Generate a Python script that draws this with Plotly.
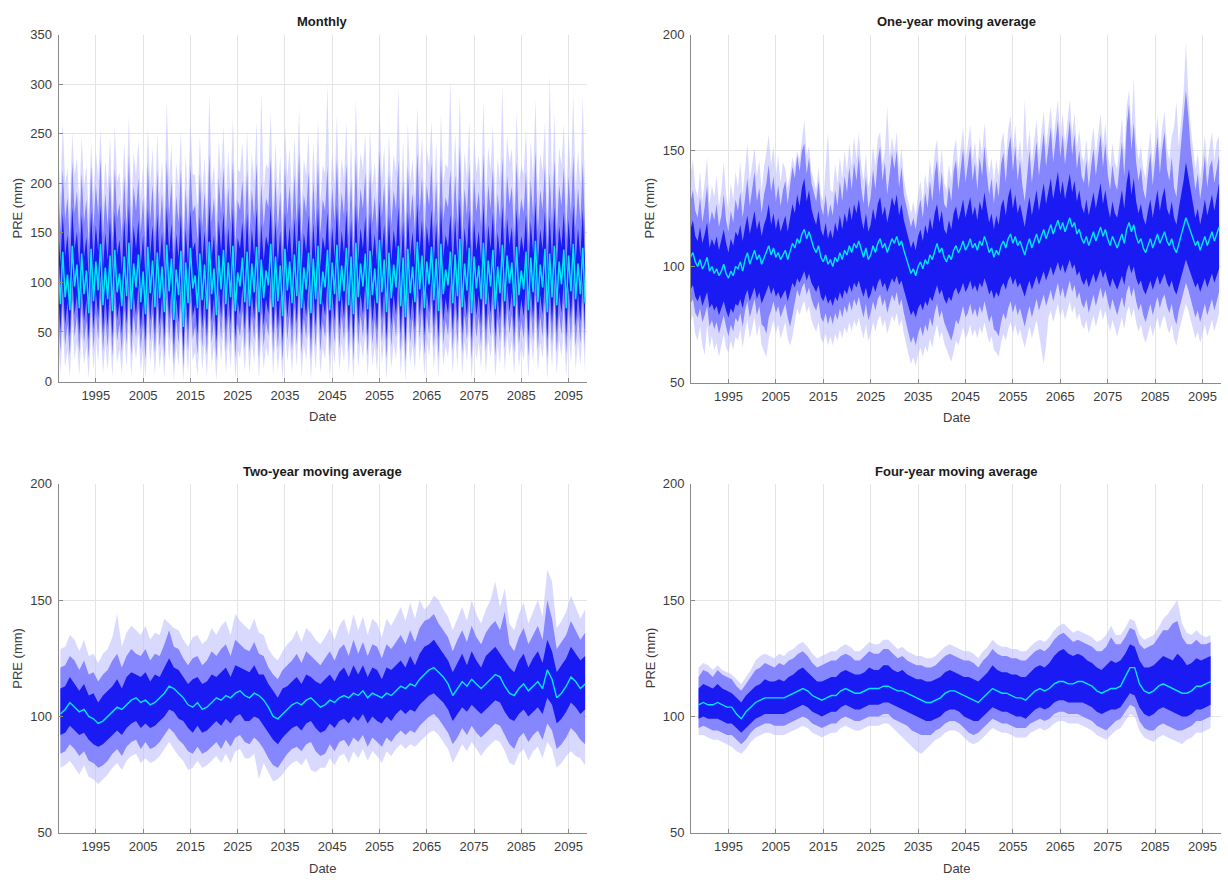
import numpy as np
import plotly.graph_objects as go

# ---------------------------------------------------------------------------
# Ensemble precipitation (PRE, mm): envelope (min/max), 10-90 % and 25-75 %
# ranges and ensemble median, for monthly values and 1/2/4-year moving means.
# ---------------------------------------------------------------------------

# Monthly values, sampled every half year from 1987.0
mon_start, mon_step = 1987.0, 0.5
mon_med = [124, 78, 131, 85, 108, 72, 137, 96, 118, 74, 129, 88, 112, 69, 134, 81, 121, 92, 139, 77,
           115, 83, 127, 71, 133, 90, 109, 76, 126, 86, 140, 73, 119, 95, 128, 80, 111, 68, 136, 89,
           122, 75, 130, 84, 116, 70, 138, 91, 124, 62, 113, 87, 132, 55, 120, 79, 135, 94, 107, 74,
           129, 82, 118, 73, 141, 88, 114, 67, 127, 93, 133, 78, 120, 85, 137, 71, 110, 96, 125, 80,
           131, 76, 119, 90, 136, 70, 123, 84, 112, 97, 139, 75, 126, 81, 117, 66, 134, 92, 121, 79,
           128, 86, 142, 74, 115, 93, 130, 69, 124, 83, 137, 78, 111, 95, 133, 72, 120, 88, 138, 81,
           117, 91, 135, 77, 126, 68, 140, 85, 119, 96, 129, 73, 132, 87, 114, 79, 143, 90, 123, 70,
           130, 84, 118, 95, 137, 76, 125, 65, 134, 89, 116, 80, 141, 93, 127, 74, 121, 98, 136, 82,
           124, 71, 139, 88, 113, 97, 131, 79, 128, 86, 144, 75, 119, 92, 135, 69, 126, 94, 117, 83,
           140, 78, 122, 96, 133, 73, 116, 89, 138, 81, 127, 99, 120, 76, 136, 87, 112, 93, 131, 72,
           125, 90, 142, 80, 118, 95, 134, 70, 129, 85, 137, 77, 121, 98, 133, 74, 127, 91, 139, 83,
           119, 88, 135, 79]
mon_p75 = [160, 118, 170, 126, 148, 109, 176, 133, 151, 115, 168, 125, 146, 105, 172, 120, 158, 131, 178, 113,
           150, 122, 166, 108, 171, 128, 143, 112, 165, 121, 179, 110, 157, 134, 163, 117, 148, 103, 175, 127,
           158, 111, 169, 119, 151, 106, 177, 130, 160, 98, 149, 124, 170, 92, 155, 116, 173, 133, 141, 110,
           167, 120, 152, 109, 180, 125, 148, 104, 163, 131, 171, 114, 156, 123, 176, 107, 145, 134, 161, 117,
           170, 113, 154, 127, 175, 106, 160, 121, 147, 136, 178, 111, 162, 118, 152, 101, 172, 130, 157, 116,
           165, 124, 181, 110, 150, 131, 168, 105, 160, 120, 176, 115, 146, 133, 171, 108, 156, 125, 177, 118,
           152, 129, 173, 113, 163, 104, 179, 122, 155, 134, 167, 109, 170, 124, 149, 116, 182, 128, 159, 106,
           168, 121, 153, 133, 176, 112, 162, 100, 172, 126, 151, 117, 180, 131, 164, 110, 157, 136, 174, 119,
           161, 107, 178, 125, 148, 135, 169, 116, 165, 123, 184, 111, 155, 130, 173, 104, 163, 132, 152, 120,
           179, 114, 158, 134, 171, 110, 151, 126, 177, 118, 165, 137, 156, 112, 175, 124, 147, 131, 169, 108,
           162, 128, 181, 117, 154, 133, 172, 106, 167, 122, 176, 114, 157, 136, 171, 111, 164, 129, 178, 120,
           155, 125, 174, 116]
mon_p25 = [95, 50, 101, 57, 80, 45, 106, 67, 88, 47, 99, 60, 83, 42, 104, 53, 91, 64, 108, 49,
           86, 55, 97, 44, 103, 62, 80, 48, 96, 58, 109, 46, 89, 66, 98, 52, 82, 41, 105, 61,
           92, 47, 100, 56, 87, 43, 107, 63, 94, 36, 84, 59, 102, 30, 90, 51, 104, 65, 78, 46,
           99, 54, 88, 45, 110, 60, 85, 40, 97, 64, 103, 50, 90, 57, 106, 43, 81, 67, 95, 52,
           101, 48, 89, 62, 105, 42, 93, 56, 83, 68, 108, 47, 96, 53, 87, 39, 104, 64, 91, 51,
           98, 58, 111, 46, 86, 65, 100, 41, 94, 55, 106, 50, 82, 66, 103, 44, 90, 60, 107, 53,
           88, 63, 104, 49, 96, 40, 109, 57, 89, 67, 99, 45, 101, 59, 85, 51, 112, 62, 93, 42,
           100, 56, 88, 66, 106, 48, 95, 38, 103, 61, 86, 52, 110, 65, 97, 46, 91, 69, 105, 54,
           94, 43, 108, 60, 84, 68, 101, 51, 98, 58, 113, 47, 89, 64, 104, 41, 96, 66, 87, 55,
           109, 50, 92, 67, 102, 45, 86, 61, 107, 53, 97, 70, 90, 48, 105, 59, 83, 65, 100, 44,
           95, 62, 111, 52, 88, 67, 103, 42, 99, 57, 106, 49, 91, 69, 102, 46, 97, 63, 108, 55,
           89, 60, 104, 51]
mon_p90 = [201, 152, 214, 163, 186, 141, 222, 170, 192, 148, 210, 161, 184, 137, 218, 155, 199, 168, 226, 146,
           190, 157, 209, 140, 216, 165, 180, 145, 207, 156, 228, 142, 197, 172, 205, 150, 186, 134, 221, 163,
           199, 144, 212, 153, 190, 138, 224, 167, 203, 128, 188, 160, 215, 121, 195, 149, 219, 171, 178, 142,
           210, 155, 191, 141, 230, 161, 186, 135, 206, 169, 216, 147, 197, 158, 223, 138, 183, 173, 203, 151,
           214, 146, 194, 164, 221, 137, 201, 156, 185, 176, 226, 143, 205, 152, 192, 131, 218, 168, 198, 150,
           209, 160, 232, 142, 189, 170, 212, 136, 202, 155, 223, 148, 184, 172, 217, 140, 196, 162, 225, 152,
           191, 167, 220, 146, 205, 134, 228, 158, 195, 174, 211, 141, 215, 160, 187, 150, 233, 166, 200, 137,
           212, 157, 193, 172, 224, 145, 204, 130, 218, 163, 190, 151, 231, 170, 207, 142, 198, 177, 221, 154,
           203, 139, 227, 162, 186, 175, 214, 150, 209, 159, 238, 144, 195, 168, 219, 135, 206, 171, 192, 156,
           229, 148, 199, 174, 216, 142, 190, 163, 226, 152, 208, 179, 197, 145, 222, 161, 185, 170, 213, 140,
           204, 166, 233, 151, 194, 173, 218, 137, 211, 158, 224, 148, 198, 177, 216, 144, 207, 168, 228, 155,
           196, 162, 221, 150]
mon_p10 = [72, 30, 78, 36, 58, 26, 83, 45, 66, 28, 76, 39, 61, 23, 81, 33, 69, 42, 85, 29,
           64, 34, 74, 25, 80, 41, 58, 29, 73, 37, 86, 27, 67, 44, 75, 32, 60, 22, 82, 40,
           70, 28, 77, 35, 65, 24, 84, 42, 71, 18, 62, 38, 79, 13, 68, 31, 81, 43, 56, 27,
           76, 34, 66, 26, 87, 39, 63, 21, 74, 42, 80, 30, 68, 36, 83, 24, 59, 45, 72, 32,
           78, 29, 67, 41, 82, 23, 70, 35, 61, 46, 85, 28, 73, 33, 65, 20, 81, 42, 68, 31,
           75, 37, 88, 27, 64, 43, 77, 22, 71, 34, 83, 30, 60, 44, 80, 25, 67, 39, 84, 33,
           66, 41, 81, 30, 73, 21, 86, 36, 67, 45, 76, 26, 78, 38, 63, 31, 89, 40, 70, 23,
           77, 35, 66, 44, 83, 29, 72, 19, 80, 39, 64, 32, 87, 43, 74, 27, 68, 47, 82, 34,
           71, 24, 85, 38, 62, 46, 78, 31, 75, 36, 90, 28, 67, 42, 81, 22, 73, 44, 65, 35,
           86, 30, 69, 45, 79, 26, 64, 39, 84, 33, 74, 48, 68, 29, 82, 37, 61, 43, 77, 25,
           72, 40, 88, 32, 66, 45, 80, 23, 76, 36, 83, 29, 69, 47, 79, 27, 74, 41, 85, 35,
           67, 38, 81, 31]
mon_max = [238, 186, 262, 199, 215, 172, 251, 208, 226, 180, 247, 196, 219, 168, 241, 189, 233, 204, 255, 177,
           222, 193, 246, 170, 259, 201, 211, 178, 240, 190, 268, 175, 231, 207, 244, 184, 218, 165, 257, 198,
           236, 176, 250, 188, 223, 169, 283, 202, 239, 160, 221, 196, 254, 152, 229, 181, 262, 209, 208, 174,
           248, 190, 226, 173, 290, 197, 219, 166, 243, 205, 258, 180, 232, 193, 266, 170, 214, 211, 241, 185,
           253, 179, 230, 200, 262, 168, 293, 191, 220, 214, 271, 176, 242, 186, 228, 160, 259, 206, 235, 183,
           247, 195, 276, 173, 224, 208, 252, 167, 240, 190, 265, 181, 218, 210, 300, 172, 233, 198, 268, 186,
           226, 204, 262, 179, 244, 164, 286, 193, 231, 213, 251, 172, 255, 196, 221, 183, 279, 202, 238, 168,
           251, 192, 229, 211, 296, 177, 243, 159, 260, 200, 225, 185, 278, 208, 247, 174, 235, 217, 264, 188,
           241, 170, 270, 199, 220, 215, 305, 183, 250, 195, 289, 176, 232, 205, 263, 165, 246, 210, 228, 191,
           284, 181, 237, 214, 259, 175, 226, 200, 298, 186, 248, 221, 235, 177, 272, 198, 219, 208, 256, 171,
           243, 204, 285, 184, 231, 212, 262, 168, 310, 194, 270, 180, 236, 218, 260, 176, 249, 206, 290, 190,
           234, 198, 288, 183]
mon_min = [44, 8, 52, 14, 32, 5, 58, 22, 40, 6, 49, 17, 35, 3, 55, 11, 43, 20, 60, 7,
           38, 12, 47, 4, 53, 19, 33, 7, 46, 15, 61, 5, 41, 22, 49, 10, 34, 2, 56, 18,
           44, 6, 51, 13, 39, 3, 59, 20, 45, 1, 36, 16, 53, 0, 42, 9, 55, 21, 30, 5,
           50, 12, 40, 4, 62, 17, 37, 1, 48, 20, 54, 8, 42, 14, 57, 3, 33, 23, 46, 10,
           52, 7, 41, 19, 56, 2, 44, 13, 35, 24, 60, 6, 47, 11, 39, 1, 55, 20, 42, 9,
           49, 15, 63, 5, 38, 21, 51, 1, 45, 12, 57, 8, 34, 22, 54, 3, 41, 17, 58, 11,
           40, 19, 55, 8, 47, 1, 61, 14, 41, 23, 50, 4, 52, 16, 37, 9, 64, 18, 44, 2,
           51, 13, 40, 22, 57, 7, 46, 0, 54, 17, 38, 10, 62, 21, 48, 5, 42, 25, 56, 12,
           45, 3, 59, 16, 36, 24, 52, 9, 49, 14, 65, 6, 41, 20, 55, 1, 47, 22, 39, 13,
           60, 8, 43, 23, 53, 4, 38, 17, 58, 11, 48, 26, 42, 7, 56, 15, 35, 21, 51, 3,
           46, 18, 63, 10, 40, 23, 54, 1, 50, 14, 57, 7, 43, 25, 53, 5, 48, 19, 59, 13,
           41, 16, 55, 9]

# One-year moving average, half-yearly from 1987.0
ma1_start, ma1_step = 1987.0, 0.5
ma1_med = [104, 106, 102, 100, 103, 99, 101, 104, 98, 100, 97, 99, 96, 98, 101, 97, 95, 98, 96, 100,
           99, 102, 98, 103, 106, 101, 104, 107, 103, 105, 101, 104, 106, 109, 105, 108, 104, 106, 103, 105,
           107, 103, 106, 110, 108, 112, 110, 114, 116, 112, 115, 111, 108, 106, 109, 104, 102, 105, 101, 103,
           100, 104, 102, 106, 103, 107, 105, 109, 106, 110, 108, 111, 107, 104, 108, 103, 105, 109, 106, 110,
           112, 108, 110, 106, 109, 112, 110, 113, 109, 111, 107, 104, 100, 97, 99, 96, 100, 102, 99, 103,
           101, 105, 103, 107, 110, 106, 108, 104, 102, 105, 103, 107, 109, 106, 108, 111, 107, 109, 112, 108,
           110, 107, 111, 109, 113, 110, 106, 108, 104, 107, 105, 109, 111, 108, 112, 114, 110, 113, 109, 111,
           108, 105, 109, 112, 108, 111, 114, 110, 113, 116, 112, 115, 118, 114, 117, 120, 116, 119, 115, 118,
           121, 117, 119, 114, 116, 112, 110, 113, 109, 112, 115, 111, 114, 117, 113, 116, 112, 109, 113, 110,
           108, 111, 114, 110, 116, 119, 115, 118, 113, 110, 112, 108, 106, 109, 112, 108, 111, 114, 110, 113,
           115, 111, 109, 112, 108, 106, 110, 113, 117, 121, 118, 115, 112, 109, 111, 107, 110, 113, 109, 112,
           115, 111, 114, 117]
ma1_p75 = [116, 120, 113, 111, 117, 110, 114, 119, 108, 112, 109, 113, 107, 111, 116, 110, 106, 112, 109, 115,
           113, 118, 111, 117, 122, 114, 119, 124, 116, 120, 113, 118, 121, 127, 118, 123, 116, 121, 115, 119,
           122, 115, 121, 127, 123, 131, 126, 134, 138, 128, 133, 125, 121, 118, 124, 116, 113, 119, 112, 116,
           112, 119, 115, 122, 116, 123, 119, 126, 120, 127, 123, 129, 121, 116, 123, 115, 118, 125, 120, 127,
           130, 122, 126, 119, 124, 130, 126, 131, 122, 127, 120, 116, 112, 108, 111, 107, 113, 116, 111, 118,
           114, 121, 116, 123, 127, 119, 124, 116, 114, 120, 116, 123, 126, 120, 124, 129, 121, 125, 130, 122,
           126, 120, 128, 124, 132, 125, 119, 123, 116, 122, 118, 126, 129, 122, 130, 134, 125, 131, 123, 127,
           122, 117, 124, 130, 122, 128, 133, 124, 130, 136, 127, 133, 138, 129, 135, 141, 131, 137, 129, 135,
           140, 132, 137, 128, 133, 126, 123, 129, 122, 127, 132, 125, 131, 136, 127, 133, 126, 121, 128, 123,
           121, 127, 133, 125, 136, 142, 131, 138, 128, 123, 127, 121, 118, 124, 129, 121, 127, 133, 124, 130,
           134, 125, 122, 128, 121, 118, 125, 131, 137, 145, 139, 132, 126, 121, 125, 118, 123, 129, 122, 127,
           131, 124, 130, 136]
ma1_p25 = [90, 92, 87, 85, 88, 83, 86, 89, 82, 84, 81, 83, 79, 82, 85, 81, 78, 82, 80, 84,
           83, 86, 82, 87, 90, 85, 88, 91, 86, 89, 84, 87, 90, 92, 88, 91, 87, 89, 86, 88,
           90, 85, 89, 93, 91, 95, 93, 96, 98, 94, 97, 93, 91, 89, 92, 87, 85, 88, 84, 86,
           83, 87, 85, 89, 86, 90, 88, 92, 89, 93, 91, 94, 90, 87, 91, 86, 88, 92, 89, 93,
           95, 91, 93, 89, 92, 95, 93, 96, 92, 94, 90, 86, 82, 79, 81, 78, 82, 84, 81, 85,
           83, 87, 85, 89, 92, 88, 90, 86, 84, 87, 85, 89, 91, 88, 90, 93, 89, 91, 94, 90,
           92, 89, 93, 91, 95, 92, 88, 90, 86, 89, 87, 91, 93, 90, 94, 96, 92, 95, 91, 93,
           90, 87, 91, 94, 90, 93, 96, 92, 95, 98, 94, 97, 100, 96, 99, 102, 98, 101, 97, 100,
           103, 99, 101, 96, 98, 94, 92, 95, 91, 94, 97, 93, 96, 99, 95, 98, 94, 91, 95, 92,
           90, 93, 96, 92, 98, 101, 97, 100, 95, 92, 94, 90, 88, 91, 94, 90, 93, 96, 92, 95,
           97, 93, 91, 94, 90, 88, 92, 95, 99, 103, 100, 97, 94, 91, 93, 89, 92, 95, 91, 94,
           97, 93, 96, 99]
ma1_p90 = [128, 133, 124, 121, 130, 119, 126, 135, 118, 124, 120, 127, 117, 122, 131, 120, 115, 124, 119, 129,
           124, 132, 121, 130, 138, 126, 133, 141, 128, 134, 123, 131, 136, 144, 132, 139, 128, 135, 126, 133,
           137, 127, 135, 143, 138, 148, 141, 150, 153, 140, 147, 136, 132, 128, 137, 126, 122, 131, 121, 127,
           122, 133, 126, 137, 128, 139, 132, 143, 133, 145, 137, 148, 134, 127, 139, 125, 130, 142, 133, 146,
           152, 137, 145, 131, 140, 149, 142, 150, 134, 143, 131, 126, 121, 117, 121, 116, 124, 129, 121, 132,
           125, 137, 128, 140, 146, 131, 141, 127, 125, 135, 128, 141, 146, 133, 142, 151, 136, 143, 152, 137,
           145, 133, 147, 139, 152, 140, 131, 138, 127, 137, 130, 144, 149, 136, 150, 156, 141, 152, 137, 146,
           135, 128, 140, 150, 136, 146, 154, 139, 149, 158, 143, 153, 160, 145, 155, 163, 147, 157, 144, 154,
           163, 148, 157, 142, 150, 139, 136, 146, 134, 143, 151, 139, 148, 157, 143, 153, 140, 133, 144, 136,
           133, 143, 154, 139, 160, 170, 150, 162, 145, 137, 143, 133, 129, 140, 149, 135, 145, 156, 140, 151,
           158, 142, 137, 147, 134, 130, 142, 153, 164, 176, 165, 151, 142, 133, 140, 129, 137, 148, 134, 143,
           146, 136, 142, 148]
ma1_p10 = [84, 86, 80, 78, 82, 76, 79, 83, 74, 77, 73, 76, 71, 75, 79, 74, 70, 75, 72, 78,
           76, 80, 74, 81, 85, 78, 82, 86, 79, 83, 75, 74, 71, 78, 81, 85, 80, 83, 78, 81,
           84, 78, 74, 79, 85, 90, 87, 91, 93, 88, 91, 86, 83, 81, 85, 78, 76, 80, 75, 79,
           75, 80, 77, 82, 78, 83, 80, 85, 81, 86, 83, 87, 82, 78, 84, 77, 80, 85, 81, 86,
           88, 83, 86, 80, 84, 88, 85, 89, 83, 86, 80, 75, 71, 67, 70, 66, 71, 74, 70, 75,
           72, 78, 74, 80, 84, 78, 81, 76, 73, 71, 68, 72, 77, 75, 79, 83, 78, 80, 84, 79,
           82, 78, 83, 80, 85, 81, 76, 79, 73, 72, 70, 76, 80, 77, 82, 85, 80, 84, 79, 82,
           78, 74, 79, 83, 78, 82, 86, 81, 84, 88, 83, 87, 90, 85, 89, 93, 87, 91, 86, 90,
           94, 89, 92, 86, 89, 84, 82, 86, 80, 84, 88, 83, 87, 91, 86, 90, 85, 81, 86, 82,
           79, 83, 87, 82, 89, 92, 87, 91, 85, 81, 84, 79, 76, 80, 84, 79, 83, 87, 82, 86,
           88, 83, 80, 84, 78, 75, 81, 85, 89, 93, 90, 86, 82, 78, 81, 76, 80, 84, 79, 83,
           86, 81, 85, 89]
ma1_max = [140, 146, 134, 130, 141, 128, 137, 147, 127, 135, 130, 139, 126, 133, 145, 131, 124, 136, 129, 141,
           134, 145, 131, 142, 153, 137, 145, 151, 139, 146, 133, 143, 149, 157, 144, 152, 139, 148, 136, 145,
           142, 134, 140, 147, 143, 150, 146, 155, 163, 148, 152, 141, 137, 133, 143, 131, 128, 142, 158, 133,
           132, 144, 136, 147, 138, 150, 141, 153, 143, 156, 146, 158, 144, 137, 149, 134, 140, 152, 143, 155,
           158, 144, 150, 169, 147, 156, 149, 158, 142, 151, 138, 132, 127, 123, 128, 122, 131, 137, 128, 140,
           133, 146, 137, 149, 155, 140, 151, 136, 133, 144, 137, 150, 155, 142, 151, 160, 145, 152, 161, 146,
           154, 142, 156, 148, 162, 149, 140, 147, 136, 146, 139, 153, 158, 145, 159, 165, 150, 161, 146, 155,
           144, 172, 149, 159, 145, 155, 163, 148, 158, 167, 152, 162, 169, 154, 164, 172, 156, 166, 153, 163,
           172, 157, 166, 151, 159, 148, 145, 155, 143, 152, 160, 148, 157, 166, 152, 162, 149, 142, 153, 145,
           142, 152, 164, 148, 169, 176, 159, 181, 154, 146, 152, 142, 138, 149, 158, 144, 154, 165, 149, 160,
           167, 151, 146, 156, 160, 171, 152, 163, 175, 197, 174, 160, 151, 142, 149, 138, 146, 157, 143, 152,
           158, 146, 154, 156]
ma1_min = [76, 79, 71, 68, 74, 66, 62, 75, 65, 70, 64, 67, 61, 66, 71, 65, 63, 68, 64, 70,
           68, 73, 65, 72, 77, 69, 74, 78, 70, 75, 66, 63, 61, 69, 73, 77, 71, 75, 69, 72,
           76, 69, 66, 70, 77, 82, 79, 83, 85, 80, 83, 77, 74, 72, 76, 69, 67, 71, 66, 70,
           66, 71, 68, 73, 69, 74, 71, 76, 72, 77, 74, 78, 73, 69, 75, 68, 71, 76, 72, 77,
           79, 74, 77, 71, 75, 79, 76, 80, 74, 77, 71, 66, 62, 58, 61, 57, 62, 65, 61, 66,
           63, 69, 65, 71, 75, 69, 72, 67, 64, 62, 59, 63, 68, 66, 70, 74, 69, 71, 75, 70,
           73, 69, 74, 71, 76, 72, 67, 70, 64, 63, 61, 67, 71, 68, 73, 76, 71, 75, 70, 73,
           69, 65, 70, 74, 69, 73, 77, 71, 65, 58, 66, 78, 81, 76, 80, 84, 78, 82, 77, 81,
           85, 80, 83, 77, 80, 75, 73, 77, 71, 75, 79, 74, 78, 82, 77, 81, 76, 72, 77, 73,
           70, 74, 78, 73, 80, 83, 78, 82, 76, 72, 75, 70, 67, 71, 75, 70, 74, 78, 73, 77,
           79, 74, 71, 75, 69, 66, 72, 76, 80, 84, 81, 77, 73, 69, 72, 67, 71, 75, 70, 74,
           77, 72, 76, 80]

# Two-year moving average, yearly from 1987.5
ma2_start, ma2_step = 1987.5, 1.0
ma2_med = [101, 103, 106, 104, 102, 103, 100, 99, 97, 98,
           100, 102, 104, 103, 105, 107, 108, 106, 107, 105,
           106, 108, 110, 113, 112, 110, 108, 105, 104, 106,
           103, 104, 106, 108, 107, 109, 108, 110, 111, 109,
           108, 110, 109, 107, 104, 100, 99, 101, 103, 105,
           106, 105, 107, 108, 106, 104, 105, 107, 106, 108,
           109, 108, 110, 109, 111, 108, 110, 109, 108, 110,
           109, 111, 113, 112, 114, 113, 116, 118, 120, 121,
           119, 117, 114, 109, 112, 115, 113, 116, 114, 112,
           114, 116, 118, 117, 113, 110, 109, 112, 114, 111,
           113, 115, 112, 120, 116, 108, 110, 113, 117, 115,
           112, 114]
ma2_p75 = [112, 113, 117, 114, 111, 114, 109, 110, 106, 109,
           111, 113, 116, 112, 117, 119, 118, 117, 119, 115,
           118, 117, 121, 125, 121, 120, 117, 114, 116, 117,
           114, 115, 118, 117, 119, 121, 117, 122, 121, 120,
           119, 122, 118, 118, 114, 111, 108, 112, 113, 115,
           117, 114, 118, 117, 115, 114, 116, 118, 115, 119,
           121, 117, 122, 118, 122, 117, 121, 120, 116, 121,
           120, 122, 124, 121, 126, 122, 127, 130, 131, 133,
           130, 127, 124, 119, 123, 127, 122, 128, 124, 121,
           126, 128, 130, 127, 124, 121, 119, 124, 127, 121,
           125, 128, 123, 133, 128, 119, 122, 125, 130, 127,
           124, 126]
ma2_p25 = [92, 93, 96, 94, 92, 93, 90, 88, 87, 88,
           90, 92, 94, 92, 95, 97, 98, 95, 97, 95,
           96, 98, 100, 103, 102, 99, 98, 95, 93, 96,
           93, 94, 96, 98, 96, 99, 97, 100, 101, 98,
           98, 100, 99, 96, 93, 90, 88, 91, 93, 95,
           96, 94, 97, 98, 95, 93, 94, 97, 95, 98,
           99, 97, 100, 98, 101, 97, 100, 98, 97, 100,
           98, 101, 103, 101, 103, 102, 105, 107, 109, 110,
           108, 106, 103, 98, 101, 104, 102, 105, 103, 101,
           103, 105, 107, 106, 102, 99, 98, 101, 103, 100,
           102, 104, 101, 108, 105, 97, 99, 102, 106, 104,
           101, 103]
ma2_p90 = [121, 122, 126, 124, 120, 124, 118, 119, 115, 118,
           120, 124, 127, 121, 126, 129, 127, 126, 129, 124,
           127, 126, 131, 137, 130, 129, 125, 122, 125, 126,
           122, 124, 128, 126, 129, 131, 126, 133, 131, 129,
           128, 132, 127, 126, 121, 118, 116, 120, 122, 124,
           127, 123, 128, 126, 124, 122, 125, 128, 124, 129,
           131, 126, 133, 127, 132, 126, 131, 130, 125, 131,
           129, 132, 135, 131, 137, 132, 138, 141, 142, 144,
           140, 137, 134, 128, 133, 137, 132, 139, 134, 131,
           136, 139, 141, 137, 145, 131, 128, 134, 138, 131,
           135, 139, 133, 150, 142, 129, 132, 135, 141, 137,
           133, 136]
ma2_p10 = [84, 85, 88, 86, 83, 85, 81, 80, 78, 79,
           81, 84, 86, 83, 87, 89, 90, 86, 89, 86,
           87, 89, 92, 95, 93, 90, 88, 85, 84, 87,
           84, 85, 87, 89, 86, 90, 87, 91, 92, 89,
           88, 91, 89, 86, 82, 79, 78, 81, 84, 86,
           87, 85, 88, 89, 85, 83, 84, 88, 85, 89,
           90, 87, 91, 89, 92, 87, 91, 89, 87, 91,
           89, 92, 94, 92, 94, 93, 96, 98, 100, 101,
           99, 96, 93, 88, 91, 95, 92, 96, 93, 91,
           93, 95, 97, 96, 92, 88, 86, 91, 93, 89,
           92, 94, 90, 97, 94, 86, 88, 91, 95, 93,
           90, 88]
ma2_max = [129, 130, 135, 133, 128, 133, 126, 127, 123, 127,
           129, 134, 144, 130, 136, 139, 137, 135, 139, 133,
           136, 135, 142, 140, 138, 137, 133, 130, 134, 135,
           131, 133, 138, 135, 139, 141, 135, 144, 141, 139,
           137, 142, 136, 135, 129, 126, 124, 128, 131, 133,
           137, 132, 138, 136, 133, 131, 134, 138, 133, 139,
           142, 135, 144, 137, 143, 135, 142, 140, 134, 142,
           139, 143, 147, 141, 149, 142, 150, 146, 148, 152,
           150, 146, 143, 137, 142, 147, 141, 150, 144, 140,
           146, 150, 158, 147, 155, 140, 137, 144, 149, 140,
           145, 150, 143, 163, 158, 138, 141, 145, 152, 147,
           142, 146]
ma2_min = [78, 79, 81, 78, 75, 79, 74, 73, 71, 73,
           75, 78, 80, 77, 81, 83, 84, 80, 82, 80,
           81, 83, 86, 89, 86, 83, 81, 77, 78, 81,
           78, 79, 81, 83, 80, 84, 80, 85, 86, 82,
           82, 84, 73, 80, 76, 72, 73, 75, 78, 80,
           81, 79, 82, 77, 76, 78, 78, 82, 79, 83,
           84, 80, 85, 82, 86, 81, 85, 83, 80, 85,
           83, 86, 88, 86, 88, 87, 89, 91, 93, 94,
           92, 89, 86, 80, 84, 88, 85, 89, 86, 83,
           86, 88, 90, 89, 85, 80, 79, 84, 86, 81,
           85, 87, 82, 89, 86, 78, 80, 83, 85, 83,
           82, 79]

# Four-year moving average, yearly from 1988.7
ma4_start, ma4_step = 1988.7, 1.0
ma4_med = [105, 106, 105, 105, 106, 105, 104, 104, 101, 99,
           102, 104, 106, 107, 108, 108, 108, 108, 108, 109,
           110, 111, 112, 111, 109, 108, 107, 108, 109, 109,
           111, 112, 111, 110, 110, 111, 112, 112, 112, 113,
           113, 112, 111, 111, 110, 109, 108, 107, 106, 106,
           107, 108, 110, 111, 111, 110, 109, 108, 107, 106,
           108, 110, 112, 111, 110, 110, 109, 108, 108, 107,
           109, 111, 112, 111, 112, 114, 115, 115, 114, 114,
           115, 115, 114, 113, 111, 110, 111, 112, 112, 113,
           117, 121, 121, 114, 111, 110, 111, 113, 114, 113,
           112, 111, 110, 110, 111, 113, 113, 114, 115]
ma4_p75 = [112, 114, 113, 112, 114, 112, 111, 110, 108, 106,
           109, 111, 113, 114, 116, 115, 115, 116, 115, 117,
           118, 120, 121, 119, 117, 115, 115, 116, 117, 117,
           119, 120, 119, 118, 118, 119, 121, 120, 120, 122,
           122, 120, 119, 120, 118, 117, 116, 116, 115, 115,
           116, 117, 119, 120, 119, 118, 117, 117, 116, 115,
           117, 119, 122, 120, 119, 119, 118, 118, 117, 117,
           119, 121, 122, 121, 123, 126, 128, 129, 127, 126,
           127, 126, 124, 123, 121, 120, 122, 124, 123, 124,
           127, 131, 130, 124, 121, 121, 122, 124, 126, 125,
           124, 127, 125, 122, 123, 125, 124, 125, 126]
ma4_p25 = [99, 100, 99, 99, 99, 98, 97, 97, 95, 93,
           95, 97, 99, 100, 101, 101, 101, 101, 101, 102,
           103, 104, 105, 104, 102, 101, 100, 101, 102, 102,
           104, 105, 104, 103, 103, 104, 105, 105, 105, 106,
           106, 105, 104, 103, 102, 101, 100, 99, 98, 98,
           99, 100, 102, 103, 103, 102, 100, 99, 98, 98,
           100, 102, 104, 103, 102, 102, 101, 100, 100, 99,
           101, 103, 104, 103, 104, 106, 107, 107, 106, 106,
           106, 106, 105, 104, 102, 101, 102, 103, 103, 104,
           107, 110, 109, 104, 101, 100, 101, 103, 104, 103,
           102, 101, 100, 100, 101, 103, 103, 104, 105]
ma4_p90 = [117, 120, 119, 117, 120, 118, 117, 116, 113, 111,
           114, 117, 120, 121, 123, 122, 121, 123, 122, 124,
           125, 127, 128, 126, 123, 121, 122, 123, 124, 124,
           126, 127, 126, 124, 124, 126, 128, 127, 127, 129,
           129, 127, 125, 126, 124, 123, 122, 122, 121, 121,
           122, 124, 126, 127, 126, 125, 124, 124, 123, 121,
           124, 126, 129, 127, 126, 126, 125, 125, 124, 124,
           126, 128, 129, 128, 130, 133, 135, 136, 134, 132,
           133, 132, 131, 130, 128, 128, 130, 134, 131, 131,
           134, 138, 137, 131, 129, 130, 131, 134, 137, 137,
           140, 141, 134, 131, 131, 133, 131, 131, 132]
ma4_p10 = [95, 96, 95, 94, 94, 93, 92, 92, 90, 88,
           90, 93, 95, 96, 97, 97, 96, 96, 96, 97,
           98, 99, 100, 99, 97, 96, 95, 96, 97, 97,
           99, 100, 99, 98, 98, 99, 100, 100, 100, 101,
           101, 99, 98, 97, 96, 94, 93, 92, 92, 92,
           94, 95, 97, 98, 98, 97, 95, 93, 92, 93,
           95, 97, 99, 98, 97, 97, 96, 95, 95, 95,
           97, 98, 99, 98, 99, 101, 102, 102, 101, 101,
           101, 100, 99, 98, 96, 95, 94, 96, 98, 99,
           102, 105, 104, 98, 95, 94, 94, 96, 97, 96,
           95, 94, 94, 95, 96, 98, 98, 99, 100]
ma4_max = [121, 123, 122, 120, 122, 120, 119, 118, 116, 114,
           117, 120, 124, 126, 127, 126, 125, 127, 126, 128,
           129, 131, 132, 130, 127, 125, 126, 127, 128, 128,
           130, 131, 130, 128, 128, 130, 132, 131, 131, 133,
           133, 131, 129, 130, 128, 127, 126, 126, 125, 125,
           126, 128, 130, 131, 130, 129, 128, 128, 127, 125,
           128, 130, 133, 131, 130, 130, 129, 129, 128, 128,
           130, 132, 133, 132, 134, 137, 139, 140, 138, 136,
           137, 136, 135, 134, 132, 133, 135, 139, 135, 135,
           138, 142, 141, 135, 133, 134, 135, 138, 142, 144,
           147, 150, 140, 136, 135, 137, 135, 134, 135]
ma4_min = [92, 92, 91, 90, 90, 89, 88, 87, 85, 84,
           86, 89, 91, 92, 93, 93, 92, 92, 92, 93,
           94, 95, 96, 95, 93, 92, 91, 92, 93, 93,
           95, 96, 95, 94, 94, 95, 96, 96, 96, 97,
           97, 95, 93, 91, 89, 87, 85, 84, 86, 88,
           90, 91, 93, 94, 94, 93, 91, 89, 88, 89,
           91, 93, 95, 94, 93, 93, 92, 91, 91, 91,
           93, 94, 95, 94, 95, 97, 98, 98, 97, 97,
           97, 96, 95, 94, 92, 91, 90, 92, 94, 95,
           98, 101, 100, 94, 91, 90, 89, 91, 92, 91,
           90, 89, 88, 90, 91, 93, 93, 94, 95]

titles = ["Monthly", "One-year moving average", "Two-year moving average", "Four-year moving average"]
year_ticks = [1995, 2005, 2015, 2025, 2035, 2045, 2055, 2065, 2075, 2085, 2095]
y_ticks_monthly = [0, 50, 100, 150, 200, 250, 300, 350]
y_ticks_ma = [50, 100, 150, 200]

# ---------------------------------------------------------------------------
W, H = 1228, 886
C_ENV = "rgba(185,185,255,0.55)"
C_P10 = "rgb(134,134,255)"
C_P25 = "rgb(26,26,242)"
C_MED = "rgb(0,232,255)"
AX_COL = "#8a8a8a"
GRID_COL = "#e4e4e4"
TXT_COL = "#3c3c3c"
FONT = "Liberation Sans, Arial, Helvetica, sans-serif"

panels = [
    dict(start=mon_start, step=mon_step, lo=mon_min, p10=mon_p10, p25=mon_p25, med=mon_med,
         p75=mon_p75, p90=mon_p90, hi=mon_max, yr=[0, 350], yt=y_ticks_monthly, lw=1.5,
         box=(58.5, 587, 28, 381)),
    dict(start=ma1_start, step=ma1_step, lo=ma1_min, p10=ma1_p10, p25=ma1_p25, med=ma1_med,
         p75=ma1_p75, p90=ma1_p90, hi=ma1_max, yr=[50, 200], yt=y_ticks_ma, lw=1.4,
         box=(691, 1221, 28, 382)),
    dict(start=ma2_start, step=ma2_step, lo=ma2_min, p10=ma2_p10, p25=ma2_p25, med=ma2_med,
         p75=ma2_p75, p90=ma2_p90, hi=ma2_max, yr=[50, 200], yt=y_ticks_ma, lw=1.4,
         box=(58.5, 587, 485, 840)),
    dict(start=ma4_start, step=ma4_step, lo=ma4_min, p10=ma4_p10, p25=ma4_p25, med=ma4_med,
         p75=ma4_p75, p90=ma4_p90, hi=ma4_max, yr=[50, 200], yt=y_ticks_ma, lw=1.4,
         box=(691, 1221, 485, 840)),
]

fig = go.Figure()
layout = dict(width=W, height=H, margin=dict(l=0, r=0, t=0, b=0),
              paper_bgcolor="white", plot_bgcolor="white", showlegend=False,
              font=dict(family=FONT, size=13, color=TXT_COL), annotations=[])

for i, p in enumerate(panels):
    n = len(p["med"])
    for k in ("lo", "p10", "p25", "p75", "p90", "hi"):
        assert len(p[k]) == n, (i, k, len(p[k]), n)
    t = p["start"] + p["step"] * np.arange(n)
    sfx = "" if i == 0 else str(i + 1)
    xa, ya = "x" + sfx, "y" + sfx

    for lo_key, hi_key, col in (("lo", "hi", C_ENV), ("p10", "p90", C_P10), ("p25", "p75", C_P25)):
        fig.add_trace(go.Scatter(x=t, y=p[lo_key], mode="lines", line=dict(width=0),
                                 xaxis=xa, yaxis=ya, hoverinfo="skip"))
        fig.add_trace(go.Scatter(x=t, y=p[hi_key], mode="lines", line=dict(width=0),
                                 fill="tonexty", fillcolor=col, xaxis=xa, yaxis=ya, hoverinfo="skip"))
    fig.add_trace(go.Scatter(x=t, y=p["med"], mode="lines", line=dict(color=C_MED, width=p["lw"]),
                             xaxis=xa, yaxis=ya))

    x0, x1, y0, y1 = p["box"]
    common = dict(showgrid=True, gridcolor=GRID_COL, gridwidth=1, showline=True, linecolor=AX_COL,
                  linewidth=1, ticks="inside", ticklen=4, tickcolor=AX_COL, zeroline=False,
                  tickfont=dict(family=FONT, size=13, color=TXT_COL), fixedrange=True)
    layout["xaxis" + sfx] = dict(common, domain=[x0 / W, x1 / W], range=[1987.1, 2098.9],
                                 tickvals=year_ticks, ticktext=[str(v) for v in year_ticks],
                                 anchor=ya, ticklabelstandoff=2)
    layout["yaxis" + sfx] = dict(common, domain=[1 - y1 / H, 1 - y0 / H], range=p["yr"],
                                 tickvals=p["yt"], anchor=xa, ticklabelstandoff=3)

    cx = (x0 + x1) / 2
    layout["annotations"] += [
        dict(text="<b>" + titles[i] + "</b>", x=cx / W, y=1 - (y0 - 13) / H, xref="paper", yref="paper",
             showarrow=False, xanchor="center", yanchor="middle",
             font=dict(family=FONT, size=13, color="#1a1a1a")),
        dict(text="Date", x=cx / W, y=1 - (y1 + 36) / H, xref="paper", yref="paper",
             showarrow=False, xanchor="center", yanchor="middle",
             font=dict(family=FONT, size=13, color=TXT_COL)),
        dict(text="PRE (mm)", x=(x0 - 41) / W, y=1 - (y0 + y1) / 2 / H, xref="paper", yref="paper",
             showarrow=False, xanchor="center", yanchor="middle", textangle=-90,
             font=dict(family=FONT, size=13, color=TXT_COL)),
    ]

fig.update_layout(**layout)
fig.write_html("out.html", config={"displayModeBar": False})
